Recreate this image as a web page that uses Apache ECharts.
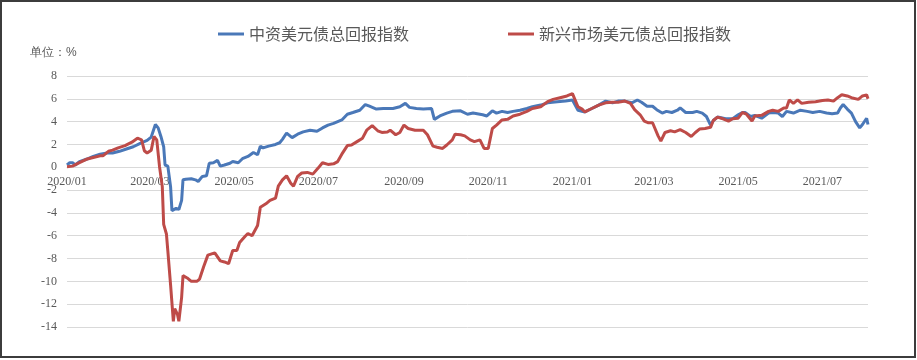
<!DOCTYPE html>
<html>
<head>
<meta charset="utf-8">
<script src="https://cdn.jsdelivr.net/npm/echarts@6/dist/echarts.min.js"></script>
<style>
html,body{margin:0;padding:0;background:#fff;}
#chart{width:917px;height:360px;}
</style>
</head>
<body>
<div id="chart"></div>
<script>
// X axis: calendar days shown on the category axis
const startDate = '2020-01-01';
const endDate = '2021-08-03';

const seriesNames = ['中资美元债总回报指数', '新兴市场美元债总回报指数'];
const unitLabel = '单位：%';

// Y axis ticks
const yMin = -14, yMax = 8, yStep = 2;

// 中资美元债总回报指数 (%)
const zzData = [
['2020-01-01',0.2],['2020-01-03',0.4],['2020-01-05',0.4],['2020-01-07',0.2],['2020-01-10',0.5],
['2020-01-15',0.7],['2020-01-20',0.95],['2020-01-25',1.15],['2020-01-30',1.25],['2020-02-03',1.25],
['2020-02-08',1.4],['2020-02-13',1.6],['2020-02-18',1.8],['2020-02-23',2.1],['2020-02-28',2.35],
['2020-03-02',2.65],['2020-03-05',3.75],['2020-03-07',3.45],['2020-03-09',2.7],['2020-03-11',1.8],
['2020-03-12',0.2],['2020-03-14',0.1],['2020-03-16',-1.7],['2020-03-17',-3.8],['2020-03-20',-3.6],
['2020-03-22',-3.7],['2020-03-24',-2.9],['2020-03-25',-1.1],['2020-03-27',-1.05],['2020-03-31',-1.0],
['2020-04-03',-1.1],['2020-04-05',-1.25],['2020-04-08',-0.8],['2020-04-11',-0.75],['2020-04-13',0.35],
['2020-04-16',0.4],['2020-04-19',0.6],['2020-04-21',0.1],['2020-04-24',0.2],['2020-04-28',0.35],
['2020-04-30',0.5],['2020-05-04',0.4],['2020-05-07',0.75],['2020-05-11',0.95],['2020-05-15',1.3],
['2020-05-18',1.1],['2020-05-20',1.85],['2020-05-22',1.7],['2020-05-26',1.85],['2020-05-31',2.0],
['2020-06-03',2.15],['2020-06-05',2.45],['2020-06-08',3.0],['2020-06-12',2.6],['2020-06-16',2.9],
['2020-06-20',3.1],['2020-06-25',3.25],['2020-06-30',3.15],['2020-07-04',3.45],['2020-07-08',3.7],
['2020-07-12',3.85],['2020-07-18',4.15],['2020-07-22',4.65],['2020-07-26',4.8],['2020-07-31',5.0],
['2020-08-04',5.5],['2020-08-07',5.35],['2020-08-12',5.1],['2020-08-17',5.15],['2020-08-24',5.15],
['2020-08-29',5.3],['2020-09-02',5.6],['2020-09-05',5.25],['2020-09-10',5.15],['2020-09-15',5.1],
['2020-09-21',5.15],['2020-09-23',4.2],['2020-09-27',4.5],['2020-10-02',4.75],['2020-10-06',4.9],
['2020-10-12',4.95],['2020-10-17',4.65],['2020-10-21',4.75],['2020-10-28',4.6],['2020-10-31',4.5],
['2020-11-04',4.95],['2020-11-07',4.75],['2020-11-11',4.9],['2020-11-15',4.8],['2020-11-19',4.9],
['2020-11-24',5.0],['2020-11-29',5.15],['2020-12-03',5.3],['2020-12-09',5.45],['2020-12-14',5.65],
['2020-12-21',5.75],['2020-12-27',5.8],['2021-01-01',5.9],['2021-01-05',5.0],['2021-01-10',4.85],
['2021-01-15',5.15],['2021-01-20',5.45],['2021-01-25',5.8],['2021-01-30',5.65],['2021-02-03',5.8],
['2021-02-08',5.8],['2021-02-13',5.65],['2021-02-17',5.9],['2021-02-20',5.7],['2021-02-24',5.35],
['2021-02-28',5.35],['2021-03-03',5.05],['2021-03-07',4.75],['2021-03-10',4.9],['2021-03-14',4.8],
['2021-03-18',5.0],['2021-03-20',5.2],['2021-03-24',4.8],['2021-03-29',4.8],['2021-04-01',4.9],
['2021-04-05',4.75],['2021-04-08',4.45],['2021-04-11',3.7],['2021-04-13',4.1],['2021-04-16',4.4],
['2021-04-22',4.25],['2021-04-27',4.25],['2021-05-01',4.6],['2021-05-04',4.8],['2021-05-06',4.8],
['2021-05-10',4.45],['2021-05-13',4.55],['2021-05-18',4.3],['2021-05-23',4.75],['2021-05-26',4.8],
['2021-05-30',4.75],['2021-06-02',4.45],['2021-06-05',4.9],['2021-06-10',4.75],['2021-06-15',5.0],
['2021-06-20',4.9],['2021-06-24',4.8],['2021-06-29',4.9],['2021-07-04',4.75],['2021-07-08',4.7],
['2021-07-12',4.75],['2021-07-14',5.2],['2021-07-16',5.5],['2021-07-19',5.1],['2021-07-22',4.75],
['2021-07-25',4.0],['2021-07-28',3.45],['2021-07-30',3.75],['2021-08-02',4.3],['2021-08-03',3.75]
];

// 新兴市场美元债总回报指数 (%)
const emData = [
['2020-01-01',0.05],['2020-01-05',0.1],['2020-01-10',0.4],['2020-01-15',0.7],['2020-01-20',0.85],
['2020-01-25',1.0],['2020-01-27',1.0],['2020-01-31',1.4],['2020-02-03',1.5],['2020-02-07',1.7],
['2020-02-12',1.9],['2020-02-17',2.2],['2020-02-21',2.55],['2020-02-24',2.4],['2020-02-26',1.45],
['2020-02-28',1.25],['2020-03-02',1.5],['2020-03-04',2.7],['2020-03-06',2.4],['2020-03-08',0.05],
['2020-03-10',-1.7],['2020-03-11',-5.0],['2020-03-13',-5.85],['2020-03-14',-7.3],['2020-03-16',-10.3],
['2020-03-18',-13.5],['2020-03-19',-12.4],['2020-03-21',-12.9],['2020-03-22',-13.5],['2020-03-24',-11.4],
['2020-03-25',-9.5],['2020-03-28',-9.7],['2020-03-31',-10.0],['2020-04-04',-10.0],['2020-04-06',-9.8],
['2020-04-09',-8.7],['2020-04-12',-7.7],['2020-04-17',-7.5],['2020-04-21',-8.2],['2020-04-24',-8.3],
['2020-04-27',-8.45],['2020-04-30',-7.3],['2020-05-03',-7.3],['2020-05-05',-6.6],['2020-05-09',-6.05],
['2020-05-11',-5.8],['2020-05-14',-6.0],['2020-05-18',-5.1],['2020-05-20',-3.5],['2020-05-24',-3.2],
['2020-05-27',-2.9],['2020-05-31',-2.7],['2020-06-02',-1.65],['2020-06-05',-1.1],['2020-06-08',-0.75],
['2020-06-11',-1.4],['2020-06-13',-1.65],['2020-06-16',-0.8],['2020-06-19',-0.5],['2020-06-23',-0.45],
['2020-06-27',-0.6],['2020-07-01',-0.05],['2020-07-04',0.4],['2020-07-08',0.25],['2020-07-12',0.3],
['2020-07-15',0.5],['2020-07-18',1.15],['2020-07-22',1.9],['2020-07-25',1.95],['2020-07-29',2.25],
['2020-08-02',2.55],['2020-08-05',3.25],['2020-08-09',3.65],['2020-08-13',3.2],['2020-08-16',3.05],
['2020-08-20',3.1],['2020-08-22',3.25],['2020-08-26',2.85],['2020-08-29',3.05],['2020-09-01',3.7],
['2020-09-04',3.4],['2020-09-09',3.25],['2020-09-15',3.25],['2020-09-18',2.85],['2020-09-22',1.85],
['2020-09-25',1.75],['2020-09-29',1.65],['2020-10-02',1.95],['2020-10-06',2.4],['2020-10-08',2.9],
['2020-10-12',2.85],['2020-10-15',2.75],['2020-10-19',2.4],['2020-10-22',2.25],['2020-10-26',2.4],
['2020-10-29',1.65],['2020-11-01',1.65],['2020-11-04',3.4],['2020-11-07',3.7],['2020-11-11',4.15],
['2020-11-15',4.2],['2020-11-19',4.5],['2020-11-24',4.65],['2020-11-29',4.9],['2020-12-03',5.15],
['2020-12-09',5.3],['2020-12-14',5.75],['2020-12-18',5.95],['2020-12-23',6.1],['2020-12-28',6.25],
['2021-01-01',6.45],['2021-01-05',5.3],['2021-01-08',5.1],['2021-01-10',4.85],['2021-01-15',5.15],
['2021-01-20',5.45],['2021-01-25',5.65],['2021-01-30',5.7],['2021-02-03',5.7],['2021-02-08',5.8],
['2021-02-12',5.6],['2021-02-15',5.05],['2021-02-19',4.6],['2021-02-22',4.05],['2021-02-25',3.9],
['2021-02-28',3.9],['2021-03-04',2.75],['2021-03-06',2.3],['2021-03-09',3.05],['2021-03-13',3.2],
['2021-03-16',3.1],['2021-03-20',3.3],['2021-03-24',3.05],['2021-03-28',2.7],['2021-03-31',3.05],
['2021-04-03',3.35],['2021-04-07',3.4],['2021-04-11',3.5],['2021-04-13',4.1],['2021-04-16',4.4],
['2021-04-20',4.25],['2021-04-24',4.05],['2021-04-27',4.25],['2021-05-01',4.3],['2021-05-04',4.8],
['2021-05-07',4.65],['2021-05-11',4.05],['2021-05-13',4.5],['2021-05-18',4.55],['2021-05-23',4.9],
['2021-05-26',5.0],['2021-05-30',4.9],['2021-06-03',5.2],['2021-06-05',5.2],['2021-06-07',5.9],
['2021-06-10',5.6],['2021-06-13',5.9],['2021-06-16',5.6],['2021-06-21',5.7],['2021-06-26',5.75],
['2021-07-01',5.85],['2021-07-05',5.9],['2021-07-09',5.8],['2021-07-12',6.1],['2021-07-15',6.35],
['2021-07-19',6.25],['2021-07-22',6.1],['2021-07-27',5.95],['2021-07-30',6.25],['2021-08-02',6.35],
['2021-08-03',6.0]
];

// build the list of calendar days for the category axis
function pad(n){return (n<10?'0':'')+n;}
const days = [];
(function(){
  const s = startDate.split('-').map(Number), e = endDate.split('-').map(Number);
  let t = Date.UTC(s[0], s[1]-1, s[2]);
  const tEnd = Date.UTC(e[0], e[1]-1, e[2]);
  while (t <= tEnd) {
    const d = new Date(t);
    days.push(d.getUTCFullYear()+'-'+pad(d.getUTCMonth()+1)+'-'+pad(d.getUTCDate()));
    t += 86400000;
  }
})();

const labelFont = '"Liberation Serif","Times New Roman",serif';
const cjkFont = '"Noto Sans CJK SC","Noto Sans",sans-serif';

// grid layout
const W = 917, H = 360;
const gridLeft = 67, gridRight = 49, gridTop = 76, gridBottom = 33;
const gridHeight = H - gridTop - gridBottom;
// shift the category axis (and its labels) up to the zero line of the value axis
const zeroOffset = -gridHeight * (0 - yMin) / (yMax - yMin);

const chart = echarts.init(document.getElementById('chart'), null, {renderer:'canvas'});
chart.setOption({
  animation: false,
  backgroundColor: '#ffffff',
  color: ['#4A78B8', '#BE4B48'],
  graphic: [
    {type:'rect', shape:{x:1, y:1, width:914, height:356}, style:{fill:'none', stroke:'#3c3c3c', lineWidth:2}, silent:true, z:-1},
    {type:'text', left:30, top:47, style:{text:unitLabel, fontSize:12, fill:'#595959', font:'12px ' + cjkFont}}
  ],
  legend: {
    left: 213, top: 21,
    icon: 'rect', itemWidth: 26, itemHeight: 3, itemGap: 99,
    textStyle: {fontSize: 16, color: '#595959', fontFamily: cjkFont},
    data: seriesNames
  },
  grid: {left: gridLeft, right: gridRight, top: gridTop, bottom: gridBottom, containLabel: false},
  xAxis: {
    type: 'category',
    data: days,
    boundaryGap: false,
    position: 'bottom',
    offset: zeroOffset,
    axisLine: {onZero: false, lineStyle: {color: '#D9D9D9', width: 1}},
    axisTick: {show: false},
    splitLine: {show: false},
    axisLabel: {
      margin: 9,
      color: '#595959', fontSize: 12, fontFamily: labelFont,
      interval: function(i, v){ return v.slice(8) === '01' && (parseInt(v.slice(5,7),10) % 2 === 1); },
      formatter: function(v){ return v.slice(0,4) + '/' + v.slice(5,7); }
    }
  },
  yAxis: {
    type: 'value',
    min: yMin, max: yMax, interval: yStep,
    axisLine: {show: false},
    axisTick: {show: false},
    splitLine: {lineStyle: {color: '#D9D9D9', width: 1}},
    axisLabel: {margin: 10, color: '#595959', fontSize: 12, fontFamily: labelFont}
  },
  series: [
    {name: seriesNames[0], type: 'line', data: zzData, showSymbol: false, symbol: 'none',
     lineStyle: {width: 3, color: '#4A78B8'}, itemStyle: {color: '#4A78B8'}},
    {name: seriesNames[1], type: 'line', data: emData, showSymbol: false, symbol: 'none',
     lineStyle: {width: 3, color: '#BE4B48'}, itemStyle: {color: '#BE4B48'}}
  ]
});
</script>
</body>
</html>
